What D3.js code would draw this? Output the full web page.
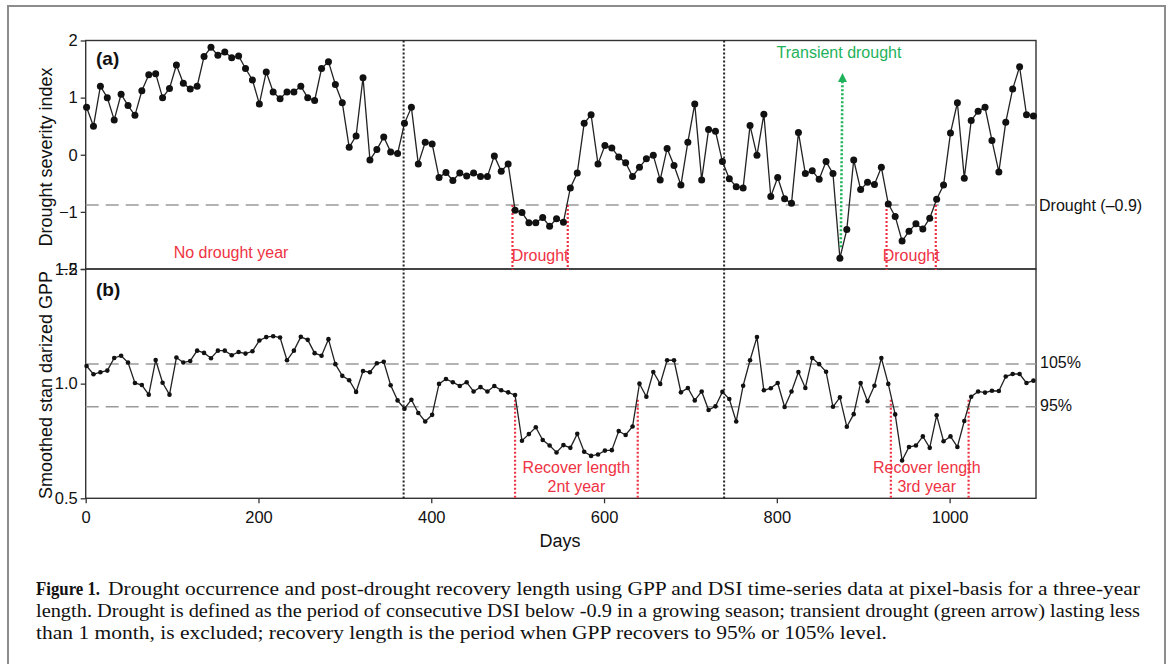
<!DOCTYPE html>
<html>
<head>
<meta charset="utf-8">
<script src="https://cdn.jsdelivr.net/npm/d3@7"></script>
<style>
	body { margin: 0; background: #fff; }
	svg text { font-family: "Liberation Sans", Arial, sans-serif; }
	svg text.cap { font-family: "Liberation Serif", "Times New Roman", serif; }
</style>
</head>
<body>
<svg id="chart" width="1171" height="664"></svg>
<script>
// drought severity index, one value per 8-day composite
var dsi = [0.83, 0.50, 1.20, 1.00, 0.61, 1.06, 0.86, 0.69, 1.12, 1.40, 1.42, 1.00, 1.16, 1.57, 1.25, 1.15,
	1.20, 1.72, 1.88, 1.74, 1.80, 1.70, 1.73, 1.51, 1.31, 0.89, 1.45, 1.10, 0.98, 1.10, 1.10, 1.20,
	1.00, 0.95, 1.51, 1.63, 1.23, 0.91, 0.13, 0.33, 1.35, -0.09, 0.09, 0.31, 0.05, 0.02, 0.55,
	0.83, -0.16, 0.22, 0.19, -0.40, -0.31, -0.45, -0.32, -0.37, -0.32, -0.38, -0.38, -0.02, -0.29, -0.16,
	-0.97, -1.01, -1.19, -1.19, -1.10, -1.25, -1.12, -1.18, -0.58, -0.32, 0.55, 0.70, -0.16, 0.16, 0.12,
	-0.04, -0.14, -0.38, -0.22, -0.07, -0.01, -0.44, 0.11, -0.19, -0.53, 0.22, 0.89, -0.44, 0.44, 0.41, -0.12,
	-0.42, -0.56, -0.58, 0.51, -0.01, 0.71, -0.73, -0.40, -0.77, -0.85, 0.39, -0.33, -0.28, -0.43, -0.12,
	-0.33, -1.81, -1.31, -0.09, -0.61, -0.48, -0.52, -0.22, -0.86, -1.08, -1.51, -1.34, -1.21, -1.30, -1.11,
	-0.78, -0.53, 0.38, 0.91, -0.41, 0.60, 0.76, 0.83, 0.25, -0.30, 0.57, 1.15, 1.54, 0.70, 0.68];

// smoothed standardized GPP, same dates
var gpp = [1.077, 1.041, 1.050, 1.057, 1.112, 1.122, 1.092, 1.003, 0.994, 0.952, 1.103, 1.004, 0.952, 1.114,
	1.092, 1.099, 1.144, 1.134, 1.111, 1.144, 1.144, 1.124, 1.138, 1.131, 1.141, 1.188, 1.203, 1.207, 1.201,
	1.102, 1.144, 1.204, 1.191, 1.133, 1.122, 1.194, 1.085, 1.034, 1.015, 0.964, 1.055, 1.050, 1.089, 1.095,
	0.993, 0.927, 0.891,
	0.930, 0.872, 0.835, 0.864, 0.999, 1.020, 1.006, 0.990, 1.006, 0.966, 0.985, 0.966, 0.990, 0.971, 0.962,
	0.950, 0.751, 0.780, 0.810, 0.754, 0.730, 0.700, 0.732, 0.720, 0.781, 0.703, 0.685, 0.691, 0.708, 0.710,
	0.793, 0.776, 0.813, 1.000, 0.943, 1.051, 0.999, 1.102, 1.102, 0.962, 0.981, 0.927, 0.966, 0.885, 0.901,
	0.964, 0.933, 0.835,
	0.991, 1.102, 1.203, 0.971, 0.980, 1.003, 0.898, 0.966, 1.051, 0.981, 1.112, 1.085, 1.052, 0.899, 0.940,
	0.812, 0.867, 1.003, 0.923, 0.991, 1.112, 0.999, 0.866, 0.665, 0.724, 0.730, 0.770, 0.720, 0.862, 0.749,
	0.770, 0.724, 0.837, 0.943, 0.966, 0.961, 0.969, 0.968, 1.031, 1.042, 1.042, 1.003, 1.013];

var firstDay = 1, dayStep = 8;
var dayTicks = [0, 200, 400, 600, 800, 1000];
var dsiTicks = [2, 1, 0, -1, -2];
var gppTicks = [1.5, 1.0, 0.5];
var droughtLevel = [-0.88];
var gppLevels = [1.086, 0.899];
var gppLevelLabels = ["105%", "95%"];
var yearBreaks = [368, 739];
var droughtSpans = [[494, 558], [927, 984]];
var recoverSpans = [[497, 639], [932, 1022]];
var recoverTop = 0.93;
var transientDays = [874, 876];
var transientValues = [-1.62, 1.43];

var svg = d3.select("#chart");
var red = "#ee3344", green = "#1eb25a", ink = "#222";

svg.append("rect").attr("width", 1171).attr("height", 664).attr("fill", "#fff");
svg.append("rect").attr("x", 8).attr("y", 6).attr("width", 1157).attr("height", 700)
	.attr("fill", "none").attr("stroke", "#8c8c8c").attr("stroke-width", 2);

var x = d3.scaleLinear().domain([0, 1100]).range([85.7, 1036]);
var ya = d3.scaleLinear().domain([-2, 2]).range([269, 40.5]);
var yb = d3.scaleLinear().domain([0.5, 1.5]).range([498.3, 269]);
var day = function (i) { return firstDay + i * dayStep; };

var minus = function (d) { return d < 0 ? "\u2212" + Math.abs(d) : String(d); };

// axes
var axA = svg.append("g").attr("transform", "translate(" + x.range()[0] + ",0)")
	.call(d3.axisLeft(ya).tickValues(dsiTicks).tickSize(5).tickSizeOuter(0).tickFormat(minus));
var axB = svg.append("g").attr("transform", "translate(" + x.range()[0] + ",0)")
	.call(d3.axisLeft(yb).tickValues(gppTicks).tickSize(5).tickSizeOuter(0).tickFormat(d3.format(".1f")));
var axX = svg.append("g").attr("transform", "translate(0," + yb.range()[0] + ")")
	.call(d3.axisBottom(x).tickValues(dayTicks).tickSize(5).tickSizeOuter(0).tickFormat(d3.format("d")));
[axA, axB, axX].forEach(function (g) {
	g.select(".domain").remove();
	g.selectAll("line").attr("stroke", "#333").attr("stroke-width", 1.3);
	g.selectAll("text").attr("font-size", 16.5).attr("fill", "#111")
		.style("font-family", '"Liberation Sans", Arial, sans-serif');
});
axX.selectAll("text").attr("dy", "1.0em");

// panel frames
[ya, yb].forEach(function (y) {
	svg.append("rect").attr("x", x(0)).attr("y", y.range()[1])
		.attr("width", x(1100) - x(0)).attr("height", y.range()[0] - y.range()[1])
		.attr("fill", "none").attr("stroke", "#333").attr("stroke-width", 1.4);
});

// threshold lines
var dash = function (y, v) {
	svg.append("line").attr("x1", x(0)).attr("x2", x(1100)).attr("y1", y(v)).attr("y2", y(v))
		.attr("stroke", "#9a9a9a").attr("stroke-width", 1.6).attr("stroke-dasharray", "13,7");
};
droughtLevel.forEach(function (v) { dash(ya, v); });
gppLevels.forEach(function (v) { dash(yb, v); });

// year breaks
yearBreaks.forEach(function (d) {
	svg.append("line").attr("x1", x(d)).attr("x2", x(d)).attr("y1", ya(2)).attr("y2", yb(0.5))
		.attr("stroke", ink).attr("stroke-width", 2).attr("stroke-dasharray", "2,2");
});

// drought and recovery spans
droughtSpans.forEach(function (s) {
	s.forEach(function (d) {
		svg.append("line").attr("x1", x(d)).attr("x2", x(d)).attr("y1", ya(droughtLevel[0])).attr("y2", ya(-2) + 1)
			.attr("stroke", red).attr("stroke-width", 2.2).attr("stroke-dasharray", "2,2");
	});
});
recoverSpans.forEach(function (s) {
	s.forEach(function (d) {
		svg.append("line").attr("x1", x(d)).attr("x2", x(d)).attr("y1", yb(recoverTop)).attr("y2", yb(0.5))
			.attr("stroke", red).attr("stroke-width", 2.2).attr("stroke-dasharray", "2,2");
	});
});

// series
var drawSeries = function (data, y, r) {
	var line = d3.line().x(function (d, i) { return x(day(i)); }).y(function (d) { return y(d); });
	svg.append("path").datum(data).attr("d", line)
		.attr("fill", "none").attr("stroke", ink).attr("stroke-width", 1.3);
	svg.append("g").selectAll("circle").data(data).enter().append("circle")
		.attr("cx", function (d, i) { return x(day(i)); })
		.attr("cy", function (d) { return y(d); })
		.attr("r", r).attr("fill", "#111");
};
drawSeries(dsi, ya, 3.5);
drawSeries(gpp, yb, 2.3);

// transient drought arrow
var ax0 = x(transientDays[0]), ay0 = ya(transientValues[0]);
var ax1 = x(transientDays[1]), ay1 = ya(transientValues[1]);
svg.append("line").attr("x1", ax0).attr("y1", ay0).attr("x2", ax1).attr("y2", ay1 + 7)
	.attr("stroke", green).attr("stroke-width", 2.6).attr("stroke-dasharray", "2,2");
svg.append("path").attr("d", "M" + ax1 + "," + ay1 + "L" + (ax1 - 4.5) + "," + (ay1 + 9) + "L" + (ax1 + 4.5) + "," + (ay1 + 9) + "Z")
	.attr("fill", green);

// labels
var label = function (t, px, py, o) {
	o = o || {};
	var s = svg.append("text").attr("x", px).attr("y", py).text(t)
		.attr("font-size", o.size || 15.5).attr("fill", o.fill || "#111")
		.attr("text-anchor", o.anchor || "start").attr("dominant-baseline", "central");
	if (o.weight) { s.attr("font-weight", o.weight); }
	if (o.rotate) { s.attr("transform", "rotate(-90," + px + "," + py + ")"); }
	return s;
};
label("(a)", 96, 58, {size: 19, weight: "bold"});
label("(b)", 96, 289, {size: 19, weight: "bold"});
label("Drought severity index", 46, 157, {size: 18, anchor: "middle", rotate: true});
label("Smoothed stan darized GPP", 46, 385, {size: 18, anchor: "middle", rotate: true});
label("Days", 560, 541, {size: 18, anchor: "middle"});
label("Drought (\u20130.9)", 1039, ya(droughtLevel[0]), {size: 16});
gppLevels.forEach(function (v, i) { label(gppLevelLabels[i], 1040, yb(v) - 1, {size: 16}); });
label("Transient drought", 839, 52, {size: 16, fill: green, anchor: "middle"});
label("No drought year", 231, 252, {size: 16, fill: red, anchor: "middle"});
droughtSpans.forEach(function (s) {
	label("Drought", (x(s[0]) + x(s[1])) / 2, 255, {size: 16, fill: red, anchor: "middle"});
});
[["Recover length", "2nt year"], ["Recover length", "3rd year"]].forEach(function (t, i) {
	var cx = (x(recoverSpans[i][0]) + x(recoverSpans[i][1])) / 2;
	if (i === 1) { cx -= 3; }
	label(t[0], cx, 467, {size: 16, fill: red, anchor: "middle"});
	label(t[1], cx, 486, {size: 16, fill: red, anchor: "middle"});
});

// caption
var capLines = [
	{x: 108, y: 595, w: 1032, t: "Drought occurrence and post-drought recovery length using GPP and DSI time-series data at pixel-basis for a three-year"},
	{x: 36, y: 617, w: 1104, t: "length. Drought is defined as the period of consecutive DSI below -0.9 in a growing season; transient drought (green arrow) lasting less"},
	{x: 36, y: 639, w: 851, t: "than 1 month, is excluded; recovery length is the period when GPP recovers to 95% or 105% level."}
];
svg.append("text").attr("class", "cap").attr("x", 36).attr("y", 595).attr("font-size", 19.5)
	.attr("font-weight", "bold").attr("textLength", 64).attr("lengthAdjust", "spacingAndGlyphs")
	.attr("fill", "#111").text("Figure 1.");
capLines.forEach(function (l) {
	svg.append("text").attr("class", "cap").attr("x", l.x).attr("y", l.y).attr("font-size", 19.5)
		.attr("textLength", l.w).attr("lengthAdjust", "spacingAndGlyphs")
		.attr("fill", "#111").text(l.t);
});
</script>
</body>
</html>
